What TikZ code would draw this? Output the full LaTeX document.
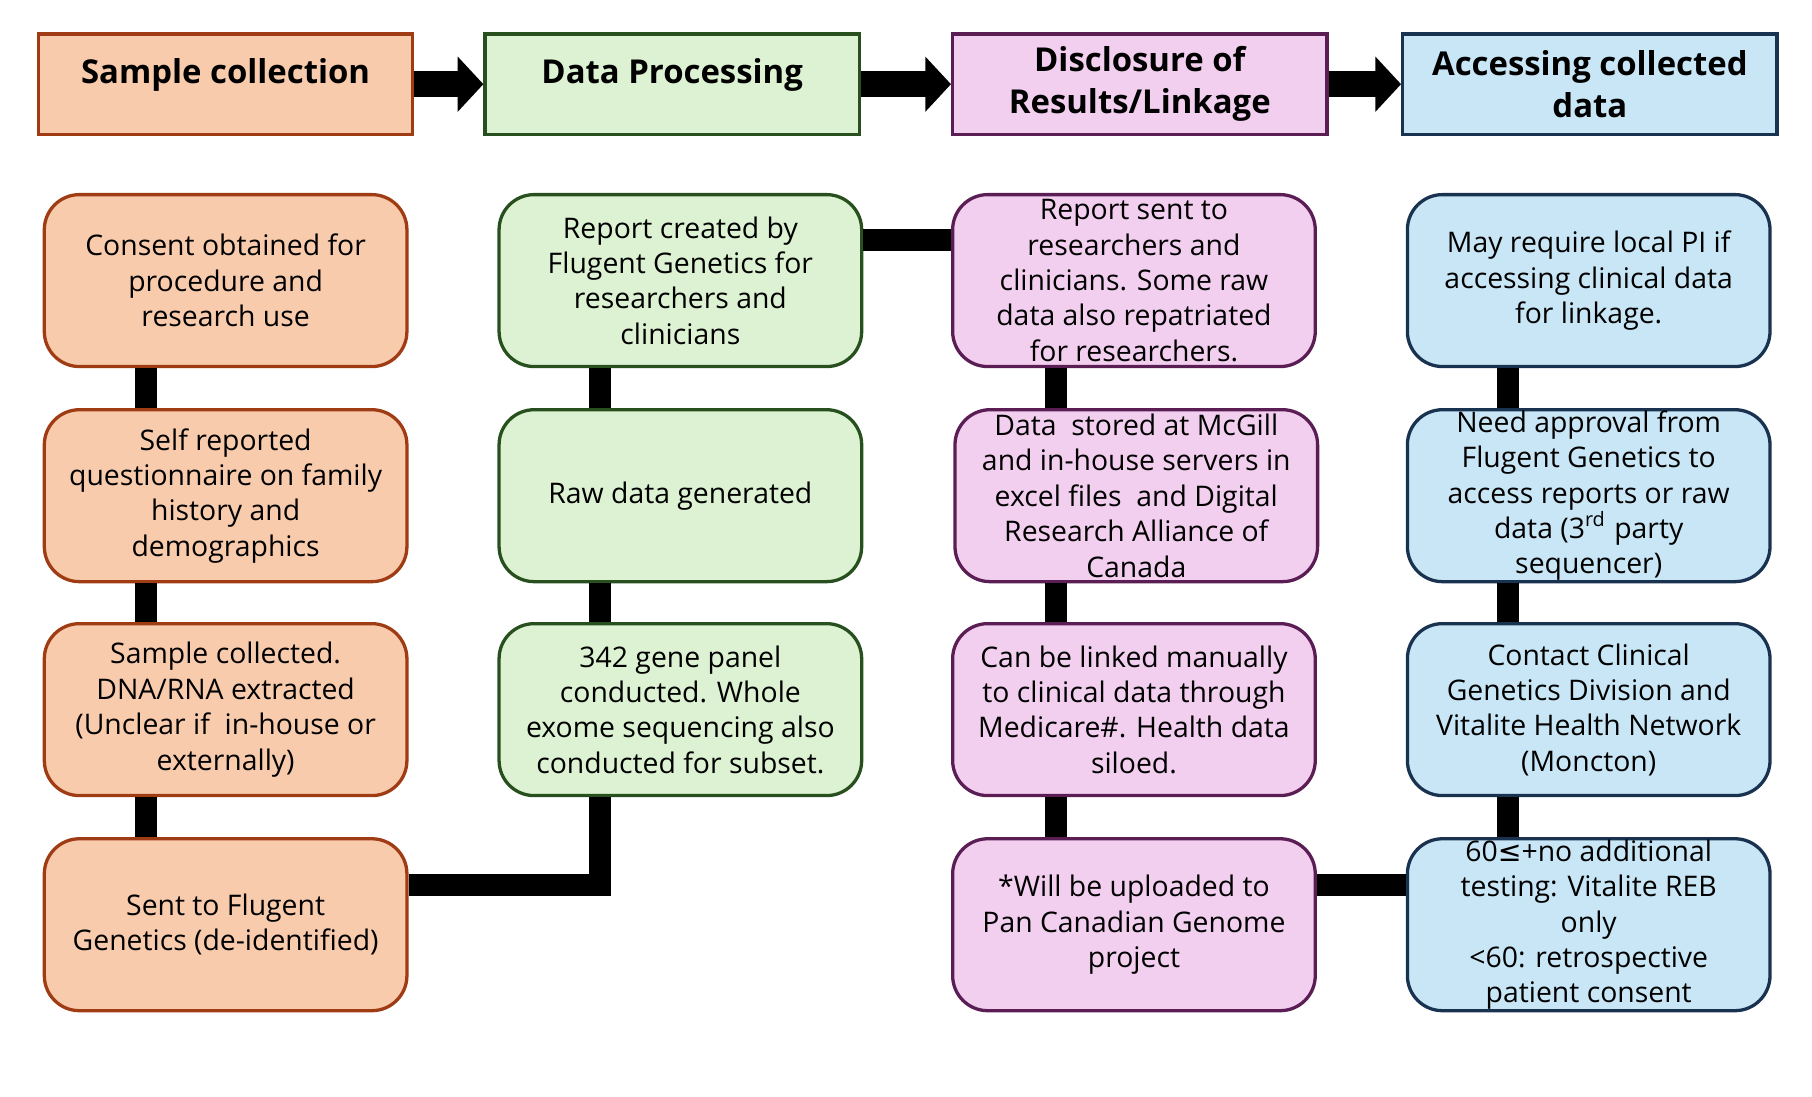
\documentclass[tikz,border=0pt]{standalone}
\usepackage{fontspec}
\setmainfont{Open Sans}
\newfontfamily\symfont{DejaVu Sans}
\usetikzlibrary{arrows.meta,positioning}
\definecolor{sampfill}{RGB}{248,203,173}
\definecolor{sampline}{RGB}{160,60,20}
\definecolor{procfill}{RGB}{220,242,210}
\definecolor{procline}{RGB}{40,80,30}
\definecolor{discfill}{RGB}{242,206,239}
\definecolor{discline}{RGB}{90,30,85}
\definecolor{accfill}{RGB}{200,230,245}
\definecolor{accline}{RGB}{25,50,80}
\tikzset{
  head/.style={draw, thick, minimum width=3.2cm, minimum height=0.86cm,
    align=center, font=\fontsize{8}{10.2}\selectfont\bfseries, inner sep=1pt},
  stepbox/.style={draw, thick, rounded corners=3mm, minimum width=3.1cm,
    minimum height=1.47cm, align=center,
    font=\fontsize{6.9}{8.6}\selectfont, inner sep=0pt},
  samp/.style={fill=sampfill, draw=sampline},
  proc/.style={fill=procfill, draw=procline},
  disc/.style={fill=discfill, draw=discline},
  acc/.style={fill=accfill, draw=accline},
  link/.style={line width=1.9mm, black},
  flow/.style={line width=2.2mm, -{Triangle[length=2.2mm,width=4.6mm]}}
}
\begin{document}
\begin{tikzpicture}[x=0.01cm, y=-0.01cm]
\useasboundingbox (0,0) rectangle (1550,938);
% Headers
\node[head, samp] (h1) at (193,72) {\raisebox{1.5ex}{Sample collection}};
\node[head, proc] (h2) at (575,72) {\raisebox{1.5ex}{Data Processing}};
\node[head, disc] (h3) at (975,72) {Disclosure of\\Results/Linkage};
\node[head, acc] (h4) at (1360,72) {Accessing collected\\data};
\draw[flow] (h1) -- (h2);
\draw[flow] (h2) -- (h3);
\draw[flow] (h3) -- (h4);
% Sample collection
\node[stepbox, samp] (s1) at (193,240) {Consent obtained for\\procedure and\\research use};
\node[stepbox, samp] (s2) at (193,424) {Self reported\\questionnaire on family\\history and\\demographics};
\node[stepbox, samp] (s3) at (193,607) {Sample collected.\\DNA/RNA extracted\\(Unclear if~ in-house or\\externally)};
\node[stepbox, samp] (s4) at (193,791) {Sent to Flugent\\Genetics (de-identified)};
% Data processing
\node[stepbox, proc] (p1) at (582,240) {Report created by\\Flugent Genetics for\\researchers and\\clinicians};
\node[stepbox, proc] (p2) at (582,424) {Raw data generated};
\node[stepbox, proc] (p3) at (582,607) {342 gene panel\\conducted. Whole\\exome sequencing also\\conducted for subset.};
% Disclosure
\node[stepbox, disc] (d1) at (970,240) {Report sent to\\researchers and\\clinicians. Some raw\\data also repatriated\\for researchers.};
\node[stepbox, disc] (d2) at (972,424) {Data~ stored at McGill\\and in-house servers in\\excel files~ and Digital\\Research Alliance of\\Canada};
\node[stepbox, disc] (d3) at (970,607) {Can be linked manually\\to clinical data through\\Medicare\#. Health data\\siloed.};
\node[stepbox, disc] (d4) at (970,791) {*Will be uploaded to\\Pan Canadian Genome\\project};
% Accessing
\node[stepbox, acc] (a1) at (1359,240) {May require local PI if\\accessing clinical data\\for linkage.};
\node[stepbox, acc] (a2) at (1359,424) {Need approval from\\Flugent Genetics to\\access reports or raw\\data (3\textsuperscript{rd} party\\sequencer)};
\node[stepbox, acc] (a3) at (1359,607) {Contact Clinical\\Genetics Division and\\Vitalite Health Network\\(Moncton)};
\node[stepbox, acc] (a4) at (1359,791) {60{\symfont ≤}+no additional\\testing: Vitalite REB\\only\\\textless60: retrospective\\patient consent};
% Connectors
\draw[link] (s1.south -| 125,0) -- (s2.north -| 125,0);
\draw[link] (s2.south -| 125,0) -- (s3.north -| 125,0);
\draw[link] (s3.south -| 125,0) -- (s4.north -| 125,0);
\draw[link] (p1.south -| 513,0) -- (p2.north -| 513,0);
\draw[link] (p2.south -| 513,0) -- (p3.north -| 513,0);
\draw[link] (d1.south -| 903,0) -- (d2.north -| 903,0);
\draw[link] (d2.south -| 903,0) -- (d3.north -| 903,0);
\draw[link] (d3.south -| 903,0) -- (d4.north -| 903,0);
\draw[link] (a1.south -| 1290,0) -- (a2.north -| 1290,0);
\draw[link] (a2.south -| 1290,0) -- (a3.north -| 1290,0);
\draw[link] (a3.south -| 1290,0) -- (a4.north -| 1290,0);
\draw[link] (s4.east |- 0,757) -- (513,757) -- (p3.south -| 513,0);
\draw[link] (p1.east |- 0,205) -- (d1.west |- 0,205);
\draw[link] (d4.east |- 0,757) -- (a4.west |- 0,757);
\end{tikzpicture}
\end{document}
